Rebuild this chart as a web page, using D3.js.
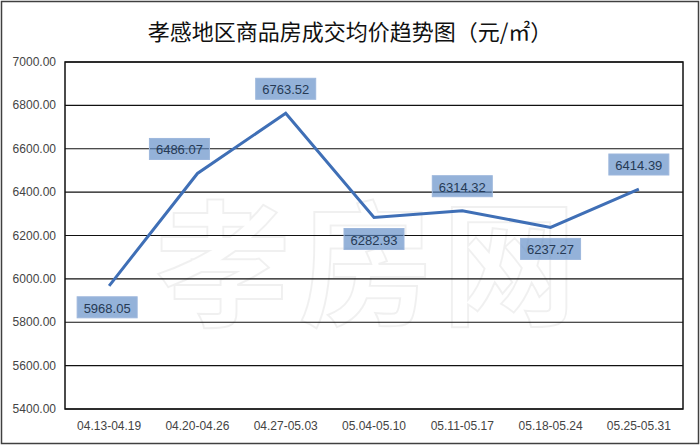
<!DOCTYPE html>
<html><head><meta charset="utf-8">
<script src="https://cdn.jsdelivr.net/npm/d3@7"></script>
<style>body{margin:0;background:#fff}</style>
</head><body>
<svg width="700" height="446"></svg>
<script>
const weeks = ['04.13-04.19','04.20-04.26','04.27-05.03','05.04-05.10','05.11-05.17','05.18-05.24','05.25-05.31'];
const prices = [5968.05, 6486.07, 6763.52, 6282.93, 6314.32, 6237.27, 6414.39];
const labelSide = ['below','above','above','below','above','below','above'];
const yTicks = [5400,5600,5800,6000,6200,6400,6600,6800,7000];

const svg = d3.select('svg');
const font = '"Liberation Sans", Arial, sans-serif';

svg.append('rect').attr('x',1.5).attr('y',1.5).attr('width',697).attr('height',442)
  .attr('fill','#fff').attr('stroke','#404040').attr('stroke-width',1.5);

svg.append('text').attr('x',350).attr('y',40).attr('text-anchor','middle')
  .attr('font-family','"Noto Sans CJK SC", serif').attr('font-size',22).attr('fill','#111')
  .text('孝感地区商品房成交均价趋势图（元/㎡）');

const x = d3.scaleBand().domain(weeks).range([65,683]);
const y = d3.scaleLinear().domain([5400,7000]).range([409,62]);

// watermark
svg.append('text').attr('x',370).attr('y',315).attr('text-anchor','middle')
  .attr('font-family','"Noto Sans CJK SC"').attr('font-size',135).attr('font-weight','bold')
  .attr('fill','none').attr('stroke','#000').attr('stroke-opacity',0.06).attr('stroke-width',2)
  .attr('letter-spacing',8).text('孝房网');

svg.append('g').selectAll('line').data(yTicks).join('line')
  .attr('x1',65).attr('x2',683).attr('y1',d=>y(d)).attr('y2',d=>y(d))
  .attr('stroke','#111').attr('stroke-width',1.2);
svg.append('rect').attr('x',65).attr('y',62).attr('width',618).attr('height',347)
  .attr('fill','none').attr('stroke','#111').attr('stroke-width',1.5);

svg.append('g').selectAll('text').data(yTicks).join('text')
  .attr('x',56).attr('y',d=>y(d)+4).attr('text-anchor','end')
  .attr('font-family',font).attr('font-size',12).attr('fill','#444')
  .text(d=>d.toFixed(2));

svg.append('g').selectAll('text').data(weeks).join('text')
  .attr('x',d=>x(d)+x.bandwidth()/2).attr('y',430).attr('text-anchor','middle')
  .attr('font-family',font).attr('font-size',12).attr('fill','#444').text(d=>d);

const cx = d=>x(d)+x.bandwidth()/2;
const line = d3.line().x((d,i)=>cx(weeks[i])).y(d=>y(d));
svg.append('path').datum(prices).attr('d',line).attr('fill','none')
  .attr('stroke','#3f6fb6').attr('stroke-width',3);

const offX = [-2,-18,0,0,0,0,0];
const lbl = svg.append('g').selectAll('g').data(prices).join('g')
  .attr('transform',(d,i)=>{
    const lx = cx(weeks[i])+offX[i];
    const ly = labelSide[i]==='above' ? y(d)-24 : y(d)+22;
    return `translate(${lx},${ly})`;
  });
lbl.append('rect').attr('x',-30).attr('y',-11).attr('width',60).attr('height',21)
  .attr('fill','#5b88c4').attr('fill-opacity',0.65).attr('stroke','#9db7dc');
lbl.append('text').attr('y',5).attr('text-anchor','middle')
  .attr('font-family',font).attr('font-size',13).attr('fill','#263a55')
  .text(d=>d.toFixed(2));
</script>
</body></html>
